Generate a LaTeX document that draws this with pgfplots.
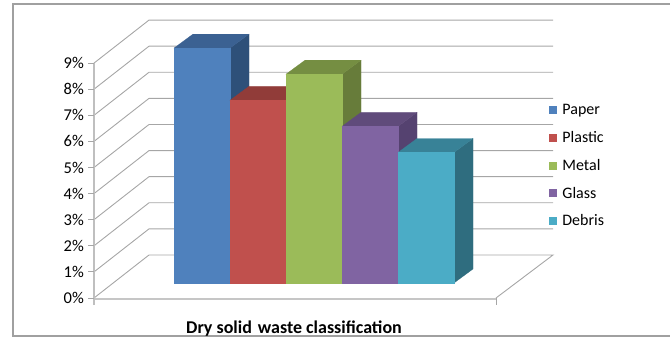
\documentclass[border=0pt]{standalone}
\usepackage{pgfplots}
\pgfplotsset{compat=1.18}
\usepackage{pgfplotstable}
\usepackage{fontspec}
\setmainfont{Carlito}

\definecolor{front0}{HTML}{4F81BD}\definecolor{top0}{HTML}{3B6192}\definecolor{side0}{HTML}{2E5079}
\definecolor{front1}{HTML}{C0504D}\definecolor{top1}{HTML}{913C39}\definecolor{side1}{HTML}{7E3432}
\definecolor{front2}{HTML}{9BBB59}\definecolor{top2}{HTML}{758E42}\definecolor{side2}{HTML}{677C3A}
\definecolor{front3}{HTML}{8064A2}\definecolor{top3}{HTML}{604B7B}\definecolor{side3}{HTML}{554270}
\definecolor{front4}{HTML}{4BACC6}\definecolor{top4}{HTML}{388297}\definecolor{side4}{HTML}{2F6D7F}
\definecolor{gridc}{HTML}{A6A6A6}
\definecolor{framec}{HTML}{A0A0A0}

\pgfplotstableread{
idx name value
0 Paper 9
1 Plastic 7
2 Metal 8
3 Glass 6
4 Debris 5
}\wastedata

\begin{document}
\begin{tikzpicture}
\begin{axis}[
  at={(0,0)}, anchor=south west,
  width=670pt, height=338pt, scale only axis,
  xmin=0, xmax=670, ymin=-1.5326, ymax=11.4176,
  axis lines=none, clip=false,
  legend cell align=left,
  legend style={draw=none, fill=none, at={(axis cs:549,7.5)}, anchor=north west,
    font=\fontsize{16}{16}\selectfont, row sep=11.2pt, inner sep=0pt},
  legend image code/.code={\fill[#1, draw=none] (0pt,-4pt) rectangle (8pt,4pt); \path (11pt,0pt);},
]
% frame
\draw[framec, line width=1.3pt] (axis cs:680,11.264) -- (axis cs:13,11.264) -- (axis cs:13,-1.456) -- (axis cs:680,-1.456);
% left wall diagonals and back wall lines
\draw[gridc, line width=0.9pt] (axis cs:94,0) -- (axis cs:149,1.648) -- (axis cs:553,1.648) -- (axis cs:496,0);
\draw[gridc, line width=0.9pt] (axis cs:94,1) -- (axis cs:149,2.648) -- (axis cs:553,2.648);
\draw[gridc, line width=0.9pt] (axis cs:94,2) -- (axis cs:149,3.648) -- (axis cs:553,3.648);
\draw[gridc, line width=0.9pt] (axis cs:94,3) -- (axis cs:149,4.648) -- (axis cs:553,4.648);
\draw[gridc, line width=0.9pt] (axis cs:94,4) -- (axis cs:149,5.648) -- (axis cs:553,5.648);
\draw[gridc, line width=0.9pt] (axis cs:94,5) -- (axis cs:149,6.648) -- (axis cs:553,6.648);
\draw[gridc, line width=0.9pt] (axis cs:94,6) -- (axis cs:149,7.648) -- (axis cs:553,7.648);
\draw[gridc, line width=0.9pt] (axis cs:94,7) -- (axis cs:149,8.648) -- (axis cs:553,8.648);
\draw[gridc, line width=0.9pt] (axis cs:94,8) -- (axis cs:149,9.648) -- (axis cs:553,9.648);
\draw[gridc, line width=0.9pt] (axis cs:94,9) -- (axis cs:149,10.648) -- (axis cs:553,10.648);
% floor front line and left axis
\draw[gray!45, line width=2pt] (axis cs:94,-0.04) -- (axis cs:496,-0.04);
\draw[gridc, line width=0.9pt] (axis cs:496,0) -- (axis cs:496,-0.27);
\draw[gray!50, line width=2pt] (axis cs:94,-0.27) -- (axis cs:94,9);
\draw[gridc, line width=0.9pt] (axis cs:88,0) -- (axis cs:94,0);
\draw[gridc, line width=0.9pt] (axis cs:88,1) -- (axis cs:94,1);
\draw[gridc, line width=0.9pt] (axis cs:88,2) -- (axis cs:94,2);
\draw[gridc, line width=0.9pt] (axis cs:88,3) -- (axis cs:94,3);
\draw[gridc, line width=0.9pt] (axis cs:88,4) -- (axis cs:94,4);
\draw[gridc, line width=0.9pt] (axis cs:88,5) -- (axis cs:94,5);
\draw[gridc, line width=0.9pt] (axis cs:88,6) -- (axis cs:94,6);
\draw[gridc, line width=0.9pt] (axis cs:88,7) -- (axis cs:94,7);
\draw[gridc, line width=0.9pt] (axis cs:88,8) -- (axis cs:94,8);
\draw[gridc, line width=0.9pt] (axis cs:88,9) -- (axis cs:94,9);
% tick labels
\pgfplotsinvokeforeach{0,...,9}{
  \node[anchor=east, font=\fontsize{16.5}{16.5}\selectfont, inner sep=0pt] at (axis cs:84,#1) {#1\%};
}
% bars
\pgfplotsforeachungrouped \i in {0,...,4}{
  \pgfplotstablegetelem{\i}{value}\of\wastedata
  \let\v\pgfplotsretval
  \pgfmathsetmacro\xl{174+56*\i}
  \pgfmathsetmacro\xr{\xl+56}
  \pgfmathsetmacro\xs{\xr+19}
  \pgfmathsetmacro\xls{\xl+19}
  \pgfmathsetmacro\yb{0.575}
  \pgfmathsetmacro\ybb{0.575+0.536}
  \pgfmathsetmacro\yt{\v+0.575}
  \pgfmathsetmacro\ytt{\v+0.575+0.536}
  \edef\tmp{%
    \noexpand\addplot[forget plot, fill=side\i, draw=side\i, line width=0.2pt] coordinates {(\xr,\yb) (\xs,\ybb) (\xs,\ytt) (\xr,\yt)} -- cycle;
    \noexpand\addplot[forget plot, fill=top\i, draw=top\i, line width=0.2pt] coordinates {(\xl,\yt) (\xr,\yt) (\xs,\ytt) (\xls,\ytt)} -- cycle;
    \noexpand\addplot[forget plot, fill=front\i, draw=front\i, line width=0.2pt] coordinates {(\xl,\yb) (\xr,\yb) (\xr,\yt) (\xl,\yt)} -- cycle;
  }\tmp
}
% legend
\addlegendimage{fill=front0}\addlegendentry{Paper}
\addlegendimage{fill=front1}\addlegendentry{Plastic}
\addlegendimage{fill=front2}\addlegendentry{Metal}
\addlegendimage{fill=front3}\addlegendentry{Glass}
\addlegendimage{fill=front4}\addlegendentry{Debris}
% title
\node[anchor=base, font=\fontsize{18}{18}\selectfont\bfseries, inner sep=0pt] at (axis cs:294,-1.36) {Dry solid\,\,waste classification};
\end{axis}
\pgfresetboundingbox
\useasboundingbox (0,0) rectangle (670pt,338pt);
\end{tikzpicture}
\end{document}
